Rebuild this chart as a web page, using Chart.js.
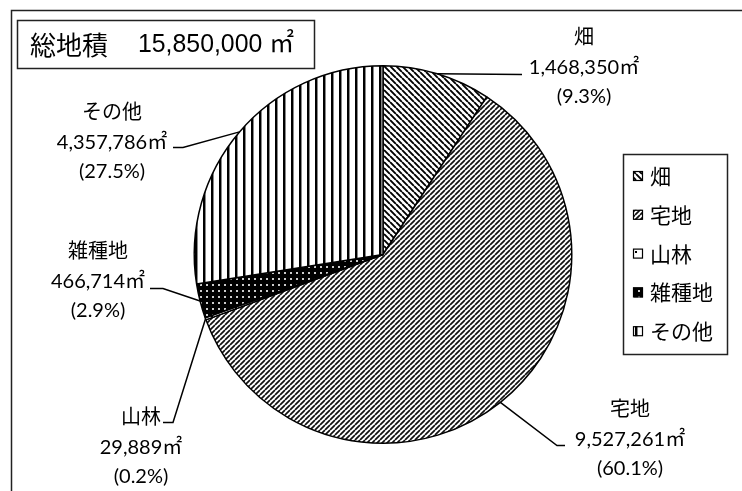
<!DOCTYPE html>
<html><head><meta charset="utf-8">
<script src="https://cdn.jsdelivr.net/npm/chart.js@4"></script>
<style>html,body{margin:0;padding:0;background:#fff}</style>
</head><body>
<canvas id="c" width="742" height="491"></canvas>
<script>
// ---- data ----
const categories = ['畑', '宅地', '山林', '雑種地', 'その他'];
const areas = [1468350, 9527261, 29889, 466714, 4357786];
const titleLabel = '総地積';
const unit = '㎡';

// ---- patterns ----
function makePattern(kind) {
  const c = document.createElement('canvas');
  const g = c.getContext('2d');
  let s = 6;
  if (kind === 'back') { s = 6; c.width = c.height = s; g.fillStyle = '#fff'; g.fillRect(0,0,s,s);
    g.strokeStyle = '#000'; g.lineWidth = 1.9; g.beginPath();
    for (const o of [-s,0,s]) { g.moveTo(o,0); g.lineTo(o+s,s); } g.stroke(); }
  if (kind === 'fwd') { s = 5; c.width = c.height = s; g.fillStyle = '#fff'; g.fillRect(0,0,s,s);
    g.strokeStyle = '#111'; g.lineWidth = 1.7; g.beginPath();
    for (const o of [-s,0,s]) { g.moveTo(o,s); g.lineTo(o+s,0); } g.stroke(); }
  if (kind === 'dot') { s = 8; c.width = c.height = s; g.fillStyle = '#fff'; g.fillRect(0,0,s,s);
    g.fillStyle = '#000'; g.fillRect(3,3,2,2); }
  if (kind === 'dark') { s = 6; c.width = c.height = s; g.fillStyle = '#000'; g.fillRect(0,0,s,s);
    g.fillStyle = '#ccc'; g.fillRect(2,2,2,2); }
  if (kind === 'vert') { s = 8; c.width = c.height = s; g.fillStyle = '#fff'; g.fillRect(0,0,s,s);
    g.fillStyle = '#000'; g.fillRect(3,0,2,s); g.fillStyle = '#888'; g.fillRect(5,0,1,s); }
  return g.createPattern(c, 'repeat');
}
const fills = ['back','fwd','dot','dark','vert'].map(makePattern);

const total = areas.reduce((a,b)=>a+b,0);
const fmt = v => v.toLocaleString('en-US');

const labelFont = "20px Lato, 'Noto Sans CJK JP'";
// layout of callouts (offsets from pie centre)
const callouts = [
  { text:[201,-187], path:[[139,-180]] },
  { text:[247,185],  path:[[174,191],[182,191]] },
  { text:[-242,193], path:[[-210,168],[-220,168]] },
  { text:[-285,27],  path:[[-220,34],[-233,34]] },
  { text:[-271,-112],path:[[-200,-107],[-210,-107]] }
];

const framePlugin = {
  id: 'frame',
  beforeDraw(chart) {
    const ctx = chart.ctx;
    ctx.save();
    ctx.fillStyle = '#fff'; ctx.fillRect(0,0,chart.width,chart.height);
    ctx.strokeStyle = '#222'; ctx.lineWidth = 1.5;
    ctx.strokeRect(11.5, 10.5, 900, 700);
    // title box
    ctx.strokeRect(17.5, 20.5, 297, 48);
    ctx.fillStyle = '#000';
    ctx.textBaseline = 'middle';
    ctx.font = "26px 'Noto Sans CJK JP'";
    ctx.fillText(titleLabel, 30, 45, 88);
    ctx.font = "26px 'Liberation Sans', 'Noto Sans CJK JP'";
    ctx.fillText(fmt(total) + ' ' + unit, 138, 45, 156);
    ctx.restore();
  },
  afterDatasetsDraw(chart) {
    const ctx = chart.ctx;
    const meta = chart.getDatasetMeta(0);
    ctx.save();
    meta.data.forEach((arc, i) => {
      const p = arc.getProps(['x','y','startAngle','endAngle','outerRadius'], true);
      const mid = (p.startAngle + p.endAngle) / 2;
      const c = callouts[i];
      ctx.strokeStyle = '#000'; ctx.lineWidth = 1.5;
      ctx.beginPath();
      ctx.moveTo(p.x + Math.cos(mid) * p.outerRadius, p.y + Math.sin(mid) * p.outerRadius);
      c.path.forEach(pt => ctx.lineTo(p.x + pt[0], p.y + pt[1]));
      ctx.stroke();
      const tx = p.x + c.text[0], ty = p.y + c.text[1];
      ctx.fillStyle = '#000'; ctx.font = labelFont;
      ctx.textAlign = 'center'; ctx.textBaseline = 'middle';
      const v = chart.data.datasets[0].data[i];
      ctx.fillText(chart.data.labels[i], tx, ty - 30);
      ctx.fillText(fmt(v) + unit, tx, ty);
      ctx.fillText('(' + (v / total * 100).toFixed(1) + '%)', tx, ty + 29);
    });
    // legend
    ctx.lineWidth = 1.5; ctx.strokeStyle = '#222';
    ctx.strokeRect(623.5, 154.5, 104, 200);
    ctx.font = "21px 'Noto Sans CJK JP'";
    ctx.textAlign = 'left'; ctx.textBaseline = 'middle';
    chart.data.labels.forEach((lab, i) => {
      const y = 176 + i * 38.8;
      ctx.fillStyle = fills[i];
      ctx.fillRect(633, y - 5, 10, 10);
      ctx.lineWidth = 1.2; ctx.strokeStyle = '#000';
      ctx.strokeRect(633.5, y - 4.5, 9, 9);
      ctx.fillStyle = '#000';
      ctx.fillText(lab, 650, y);
    });
    ctx.restore();
  }
};

new Chart(document.getElementById('c'), {
  type: 'pie',
  data: {
    labels: categories,
    datasets: [{
      data: areas,
      backgroundColor: fills,
      borderColor: '#000',
      borderWidth: 1.5
    }]
  },
  options: {
    responsive: false,
    animation: false,
    devicePixelRatio: 1,
    layout: { padding: { left: 193, right: 169, top: 65, bottom: 47 } },
    plugins: { legend: { display: false }, tooltip: { enabled: false }, title: { display: false } }
  },
  plugins: [framePlugin]
});
</script>
</body></html>
